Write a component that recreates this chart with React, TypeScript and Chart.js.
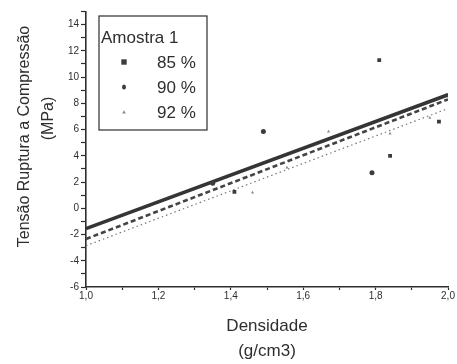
import React, { useEffect, useRef } from 'react';
import { Chart, registerables } from 'chart.js';

Chart.register(...registerables);

// ---- data ----
const legendTitle = 'Amostra 1';
const seriesLabels = ['85 %', '90 %', '92 %'];

const density85 = [1.41, 1.81, 1.84, 1.975, 2.0];
const stress85 = [1.25, 11.3, 4.0, 6.6, 8.6];

const density90 = [1.35, 1.49, 1.79];
const stress90 = [1.9, 5.85, 2.7];

const density92 = [1.46, 1.555, 1.67, 1.84, 1.95];
const stress92 = [1.2, 3.1, 5.85, 5.7, 6.9];

const fitDensity = [1.0, 2.0];
const fit85 = [-1.55, 8.65];
const fit90 = [-2.34, 8.3];
const fit92 = [-2.85, 7.6];

const xTickLabels = ['1,0', '1,2', '1,4', '1,6', '1,8', '2,0'];
const yTickLabels = ['-6', '-4', '-2', '0', '2', '4', '6', '8', '10', '12', '14'];

const xTitle = ['Densidade', '(g/cm3)'];
const yTitle = ['Tensão Ruptura a Compressão', '(MPa)'];

const FONT = '"Liberation Sans", Arial, Helvetica, sans-serif';
const INK = '#2e2e2e';

const pts = (xs: number[], ys: number[]) => xs.map((x, i) => ({ x, y: ys[i] }));

function drawMarker(ctx: CanvasRenderingContext2D, style: string, x: number, y: number, r: number, color: string) {
  ctx.fillStyle = color;
  ctx.beginPath();
  if (style === 'rect') {
    ctx.rect(x - r, y - r, 2 * r, 2 * r);
  } else if (style === 'circle') {
    ctx.ellipse(x, y, r * 0.8, r, 0, 0, Math.PI * 2);
  } else {
    ctx.moveTo(x, y - r);
    ctx.lineTo(x + r, y + r * 0.8);
    ctx.lineTo(x - r, y + r * 0.8);
    ctx.closePath();
  }
  ctx.fill();
}

const annotatePlugin = {
  id: 'annotate',
  afterDraw(chart: any) {
    const { ctx, chartArea } = chart;
    const L = chartArea.left;
    const T = chartArea.top;
    ctx.save();
    // Y axis title (two rotated lines)
    ctx.fillStyle = INK;
    ctx.font = `16px ${FONT}`;
    ctx.textAlign = 'center';
    ctx.textBaseline = 'middle';
    const yPos = [
      { x: L - 61, y: T + 125 },
      { x: L - 37, y: T + 107 },
    ];
    yTitle.forEach((t, i) => {
      ctx.save();
      ctx.translate(yPos[i].x, yPos[i].y);
      ctx.rotate(-Math.PI / 2);
      ctx.fillText(t, 0, 0);
      ctx.restore();
    });

    // Legend box
    const bx = L + 13;
    const by = T + 4.5;
    const bw = 108;
    const bh = 114;
    ctx.fillStyle = '#ffffff';
    ctx.fillRect(bx, by, bw, bh);
    ctx.strokeStyle = INK;
    ctx.lineWidth = 1.2;
    ctx.strokeRect(bx, by, bw, bh);

    ctx.fillStyle = INK;
    ctx.font = `17px ${FONT}`;
    ctx.textAlign = 'left';
    ctx.textBaseline = 'middle';
    ctx.fillText(legendTitle, bx + 2, by + 22);

    const ds = chart.data.datasets.filter((d: any) => d.inLegend);
    ds.forEach((d: any, i: number) => {
      const cy = by + 47 + i * 25;
      drawMarker(ctx, d.pointStyle, bx + 25, cy - 1, d.pointRadius, d.backgroundColor);
      ctx.fillStyle = INK;
      ctx.fillText(d.label, bx + 58, cy);
    });
    ctx.restore();
  },
};

export default function App() {
  const ref = useRef<HTMLCanvasElement | null>(null);

  useEffect(() => {
    document.body.style.margin = '0';
    const canvas = ref.current;
    if (!canvas) return;

    const chart = new Chart(canvas, {
      type: 'scatter',
      data: {
        datasets: [
          {
            label: seriesLabels[0],
            inLegend: true,
            data: pts(density85, stress85),
            pointStyle: 'rect',
            pointRadius: 2.7,
            backgroundColor: '#3c3c3c',
            borderColor: '#3c3c3c',
            borderWidth: 0,
          } as any,
          {
            label: seriesLabels[1],
            inLegend: true,
            data: pts(density90, stress90),
            pointStyle: 'circle',
            pointRadius: 2.5,
            backgroundColor: '#3c3c3c',
            borderColor: '#3c3c3c',
            borderWidth: 0,
          } as any,
          {
            label: seriesLabels[2],
            inLegend: true,
            data: pts(density92, stress92),
            pointStyle: 'triangle',
            pointRadius: 1.8,
            backgroundColor: '#8a8a8a',
            borderColor: '#8a8a8a',
            borderWidth: 0,
          } as any,
          {
            label: 'fit 85',
            type: 'line',
            data: pts(fitDensity, fit85),
            showLine: true,
            pointRadius: 0,
            borderColor: '#353535',
            borderWidth: 3.6,
            fill: false,
          } as any,
          {
            label: 'fit 90',
            type: 'line',
            data: pts(fitDensity, fit90),
            showLine: true,
            pointRadius: 0,
            borderColor: '#444444',
            borderWidth: 2.6,
            borderDash: [5, 3],
            fill: false,
          } as any,
          {
            label: 'fit 92',
            type: 'line',
            data: pts(fitDensity, fit92),
            showLine: true,
            pointRadius: 0,
            borderColor: '#777777',
            borderWidth: 1.2,
            borderDash: [1.5, 3],
            fill: false,
          } as any,
        ],
      },
      options: {
        responsive: false,
        animation: false,
        events: [],
        layout: { padding: { top: 11.5, right: 9, left: 0, bottom: 0 } },
        plugins: {
          legend: { display: false },
          tooltip: { enabled: false },
        },
        scales: {
          x: {
            type: 'linear',
            min: 1,
            max: 2,
            afterFit: (s: any) => {
              s.height = 77;
            },
            ticks: {
              stepSize: 0.1,
              autoSkip: false,
              maxRotation: 0,
              padding: 0,
              color: INK,
              font: { family: FONT, size: 10 },
              callback: (v: any) => {
                const k = Math.round((Number(v) - 1) * 10);
                return k % 2 === 0 ? xTickLabels[k / 2] : '';
              },
            },
            grid: { drawOnChartArea: false, tickLength: 3, color: INK, tickWidth: 1.2 },
            border: { color: INK, width: 1.6 },
            title: {
              display: true,
              text: xTitle,
              color: INK,
              font: { family: FONT, size: 17, lineHeight: 1.47 },
              padding: { top: 0, bottom: 0 },
            },
          },
          y: {
            type: 'linear',
            min: -6,
            max: 15,
            afterFit: (s: any) => {
              s.width = 86;
            },
            ticks: {
              stepSize: 1,
              autoSkip: false,
              padding: 2,
              color: INK,
              font: { family: FONT, size: 10 },
              callback: (v: any) => {
                const n = Math.round(Number(v));
                const k = n + 6;
                return k % 2 === 0 && k / 2 < yTickLabels.length ? yTickLabels[k / 2] : '';
              },
            },
            grid: { drawOnChartArea: false, tickLength: 5, color: INK, tickWidth: 1.2 },
            border: { color: INK, width: 1.6 },
          },
        },
      } as any,
      plugins: [annotatePlugin],
    });

    return () => chart.destroy();
  }, []);

  return (
    <div style={{ width: 457, height: 364, background: '#fff' }}>
      <canvas ref={ref} width={457} height={364} style={{ display: 'block' }} />
    </div>
  );
}
